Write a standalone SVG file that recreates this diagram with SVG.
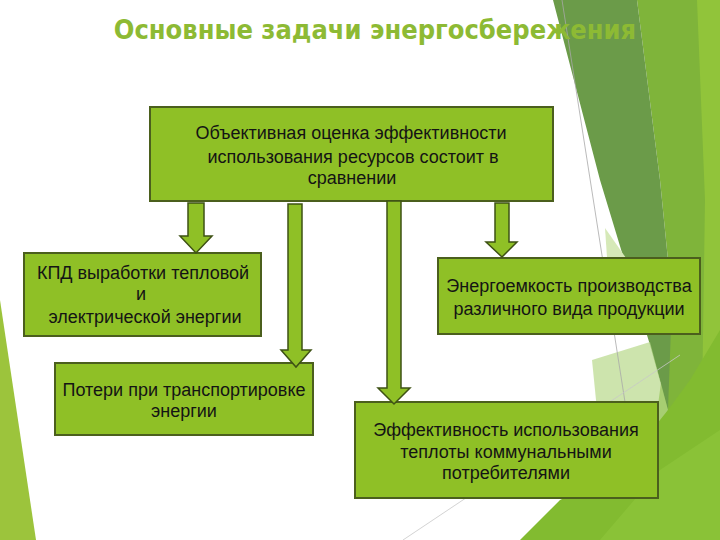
<svg xmlns="http://www.w3.org/2000/svg" width="720" height="540" viewBox="0 0 720 540">
<style>
.box{fill:#8fc026;stroke:#4b5f1d;stroke-width:2}
.arr{fill:#8fc026;stroke:#3e5214;stroke-width:1.5;stroke-linejoin:miter}
.t{font-family:"Liberation Sans",Arial,sans-serif;font-size:18px;fill:#141414;text-anchor:middle}
.title{font-family:"DejaVu Sans",sans-serif;font-stretch:condensed;font-weight:bold;font-size:27px;fill:#8dba34;text-anchor:middle}
</style>
<rect width="720" height="540" fill="#ffffff"/>
<g id="background">
  <polygon points="0,300 36,540 0,540" fill="#9cc43c"/>
  <polygon points="637,0 720,0 720,540 640,540 672,300 660,180" fill="#7fb43a"/>
  <polygon points="697,0 720,0 720,540 700,540 705,200" fill="#91c43a"/>
  <polygon points="553,0 637,0 660,180 672,300 668,410 650,345 600,180" fill="#6b9b49"/>
  <polygon points="605,228 626,258 612,330" fill="#d6e9b8"/>
  <polygon points="592,360 650,342 668,410 640,470 600,440" fill="#b8d98a" opacity="0.7"/>
  <polygon points="520,540 720,540 720,330 690,380 668,410 620,470 560,500" fill="#82bb30"/>
  <polygon points="600,540 720,540 720,430 660,470" fill="#8cc43a" opacity="0.8"/>
  <line x1="562" y1="0" x2="625" y2="402" stroke="#a8a8a8" stroke-width="0.8"/>
  <line x1="403" y1="540" x2="680" y2="355" stroke="#c8c8c8" stroke-width="0.8"/>
</g>
<text class="title" x="375" y="39">Основные задачи энергосбережения</text>
<g id="node-main">
  <rect class="box" x="150" y="107" width="403" height="94"/>
  <text class="t" x="351" y="139">Объективная оценка эффективности</text>
  <text class="t" x="353" y="163">использования ресурсов состоит в</text>
  <text class="t" x="352" y="184">сравнении</text>
</g>
<g id="node-kpd">
  <rect class="box" x="24" y="253" width="237" height="83"/>
  <text class="t" x="143" y="279">КПД выработки тепловой</text>
  <text class="t" x="141" y="300">и</text>
  <text class="t" x="145" y="323">электрической энергии</text>
</g>
<g id="node-loss">
  <rect class="box" x="55" y="363" width="258" height="72"/>
  <text class="t" x="184" y="396">Потери при транспортировке</text>
  <text class="t" x="184" y="417">энергии</text>
</g>
<g id="node-energy">
  <rect class="box" x="438" y="258" width="262" height="76"/>
  <text class="t" x="569" y="292">Энергоемкость производства</text>
  <text class="t" x="569" y="315">различного вида продукции</text>
</g>
<g id="node-eff">
  <rect class="box" x="355" y="402" width="303" height="96"/>
  <text class="t" x="506" y="436">Эффективность использования</text>
  <text class="t" x="506" y="458">теплоты коммунальными</text>
  <text class="t" x="506" y="479">потребителями</text>
</g>
<g id="connectors">
  <polygon class="arr" points="188,203 204,203 204,236 212,236 196,253 180,236 188,236"/>
  <polygon class="arr" points="288,204 302,204 302,350 311,350 296,367 281,350 288,350"/>
  <polygon class="arr" points="387,201 401,201 401,388 410,388 394,404 378,388 387,388"/>
  <polygon class="arr" points="495,203 509,203 509,242 517,242 502,257 486,242 495,242"/>
</g>
</svg>
